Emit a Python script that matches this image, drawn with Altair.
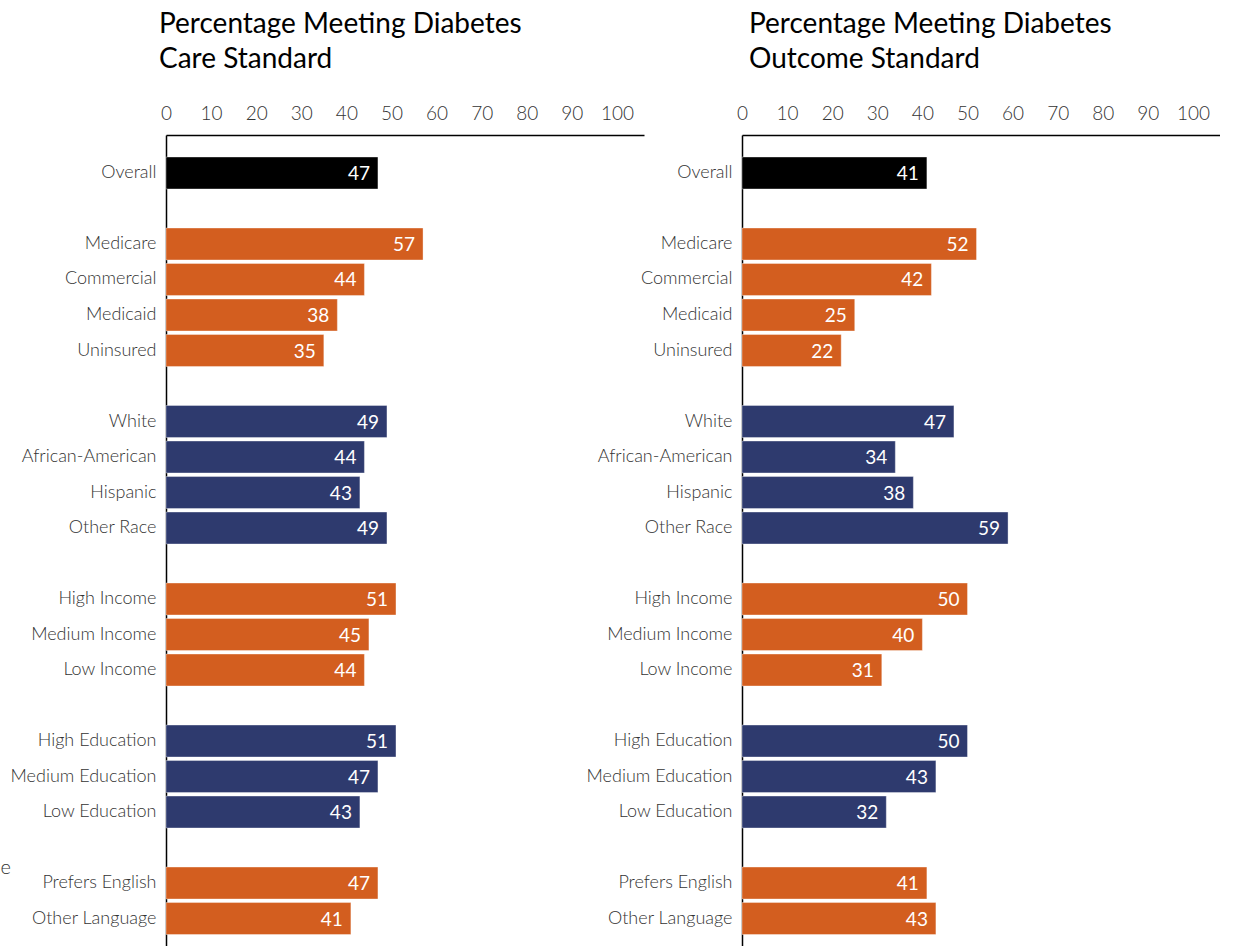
import altair as alt
import pandas as pd

categories = ["Overall", "Medicare", "Commercial", "Medicaid", "Uninsured",
              "White", "African-American", "Hispanic", "Other Race",
              "High Income", "Medium Income", "Low Income",
              "High Education", "Medium Education", "Low Education",
              "Prefers English", "Other Language"]
groups = ["Overall", "Insurance", "Insurance", "Insurance", "Insurance",
          "Race", "Race", "Race", "Race",
          "Income", "Income", "Income",
          "Education", "Education", "Education",
          "Language", "Language"]
care_values = [47, 57, 44, 38, 35, 49, 44, 43, 49, 51, 45, 44, 51, 47, 43, 47, 41]
outcome_values = [41, 52, 42, 25, 22, 47, 34, 38, 59, 50, 40, 31, 50, 43, 32, 41, 43]
x_ticks = [0, 10, 20, 30, 40, 50, 60, 70, 80, 90, 100]

group_names = ["Overall", "Insurance", "Race", "Income", "Education", "Language"]
group_colors = ["#000000", "#D35E1F", "#2E3A6E", "#D35E1F", "#2E3A6E", "#D35E1F"]

# row order with blank spacer rows between groups
order = []
prev = None
gap = 0
for c, g in zip(categories, groups):
    if prev is not None and g != prev:
        gap += 1
        order.append(f"_gap{gap}")
    order.append(c)
    prev = g

FONT = "Lato"
W, H = 478, 811


def panel(values, title_lines, title_dx, extra_e=False):
    df = pd.DataFrame({"category": categories, "group": groups, "value": values})
    y = alt.Y("category:N", sort=order,
              scale=alt.Scale(domain=order, paddingInner=0.1, paddingOuter=0.472, align=0.657),
              axis=alt.Axis(title=None, ticks=False, labelPadding=10, labelFontSize=18,
                            labelFont=FONT, labelFontWeight=300, labelColor="#333333",
                            domainColor="#000000", domainWidth=1.5,
                            labelExpr="indexof(datum.value, '_gap') == 0 ? '' : datum.value"))
    x = alt.X("value:Q",
              scale=alt.Scale(domain=[0, 106], nice=False, zero=True),
              axis=alt.Axis(title=None, orient="top", values=x_ticks, ticks=False, grid=False,
                            labelFontSize=19, labelFont=FONT, labelFontWeight=300,
                            labelColor="#333333", labelPadding=12, labelFlush=False,
                            domainColor="#000000", domainWidth=1.5))
    base = alt.Chart(df)
    bars = base.mark_bar(stroke="#ffffff", strokeWidth=0.6, strokeOpacity=0.6).encode(
        x=x, y=y,
        color=alt.Color("group:N", scale=alt.Scale(domain=group_names, range=group_colors), legend=None),
    )
    labels = base.mark_text(align="right", baseline="middle", dx=-8, dy=1, fontSize=19,
                            font=FONT, color="#ffffff").encode(
        x="value:Q", y=alt.Y("category:N", sort=order), text="value:Q")
    layers = [bars, labels]
    if extra_e:
        e_df = pd.DataFrame({"t": ["e"]})
        e_txt = alt.Chart(e_df).mark_text(align="right", baseline="alphabetic", fontSize=20,
                                          font=FONT, fontWeight=300, color="#333333").encode(
            x=alt.value(-155), y=alt.value(739), text="t:N")
        layers.append(e_txt)
    return alt.layer(*layers).properties(
        width=W, height=H,
        title=alt.TitleParams(text=title_lines, anchor="start", frame="group", dx=title_dx,
                              fontSize=28, font=FONT, fontWeight=400, color="#000000",
                              lineHeight=35, offset=30),
    )


left = panel(care_values, ["Percentage Meeting Diabetes", "Care Standard"], -7, extra_e=True)
right = panel(outcome_values, ["Percentage Meeting Diabetes", "Outcome Standard"], 7)

chart = alt.hconcat(left, right, spacing=98, bounds="flush").properties(
    padding={"left": 0, "top": 11, "right": 0, "bottom": 0}
).configure_view(stroke=None).resolve_scale(color="shared")

chart.save("out.html", embed_options={"renderer": "svg", "actions": False})
